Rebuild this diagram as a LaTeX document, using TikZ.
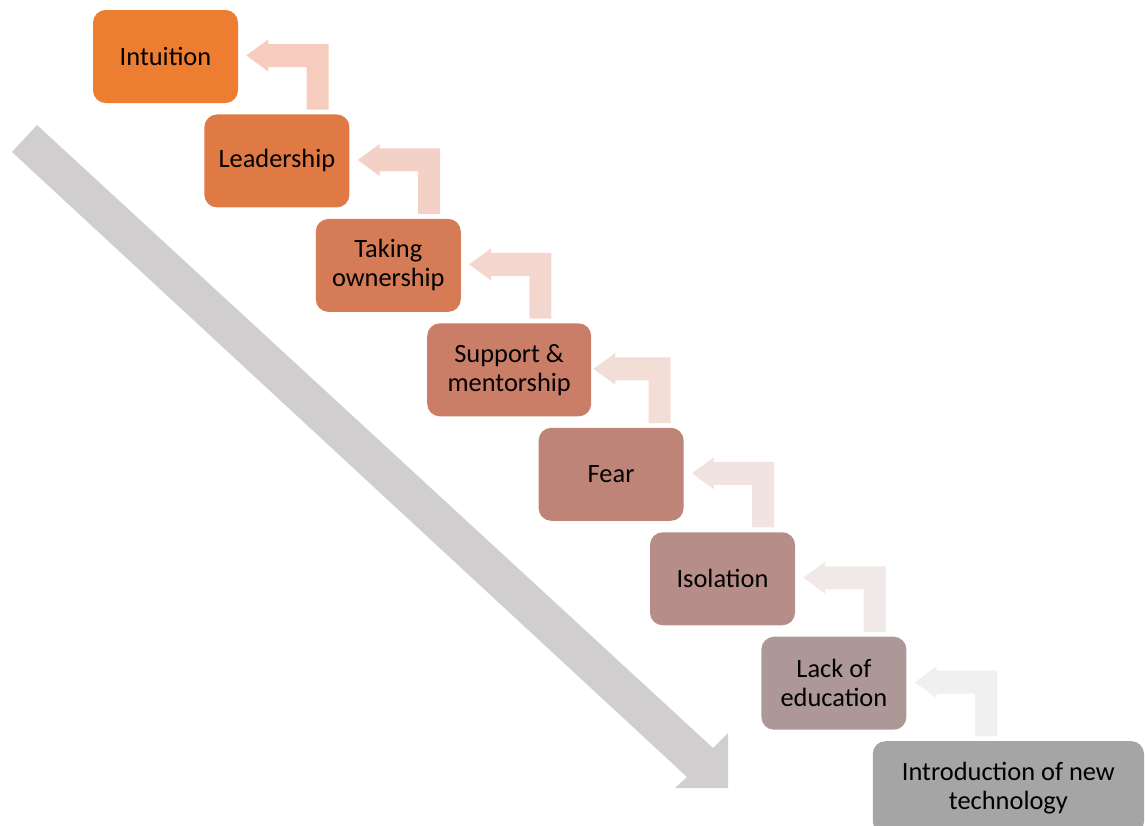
\documentclass[tikz,border=0pt]{standalone}
\usepackage{fontspec}
\setmainfont{Carlito}
\usetikzlibrary{calc}
\definecolor{c1}{RGB}{237,125,49}
\definecolor{c2}{RGB}{224,122,68}
\definecolor{c3}{RGB}{213,123,86}
\definecolor{c4}{RGB}{202,126,103}
\definecolor{c5}{RGB}{191,132,120}
\definecolor{c6}{RGB}{182,141,136}
\definecolor{c7}{RGB}{173,152,151}
\definecolor{c8}{RGB}{165,165,165}
\definecolor{a1}{RGB}{245,204,190}
\definecolor{a2}{RGB}{244,209,198}
\definecolor{a3}{RGB}{243,215,206}
\definecolor{a4}{RGB}{242,221,215}
\definecolor{a5}{RGB}{241,227,223}
\definecolor{a6}{RGB}{240,233,231}
\definecolor{a7}{RGB}{240,240,240}
\definecolor{bigarrow}{RGB}{208,206,206}
\newcommand\bentarrow[3]{%
  \fill[#3] let \p1=(#1), \p2=(#2) in
    (\x1,\y1) -- (\x1+16.5pt,\y1+12pt) -- (\x1+16.5pt,\y1+8.625pt)
    -- (\x2+16.5pt,\y1+8.625pt) -- (\x2+16.5pt,\y2) -- (\x2,\y2)
    -- (\x2,\y1-8.625pt) -- (\x1+16.5pt,\y1-8.625pt) -- (\x1+16.5pt,\y1-12pt) -- cycle;}
\tikzset{
  stepbox/.style={rectangle, rounded corners=9.5pt, draw=none, inner sep=0pt,
    minimum width=108.75pt, minimum height=69.75pt, align=center,
    font=\fontsize{19.8}{21.75}\selectfont, text=black}
}
\begin{document}
\begin{tikzpicture}[x=0.75pt,y=-0.75pt]
\useasboundingbox (0,0) rectangle (1145,825);
\clip (0,0) rectangle (1145,825);
% big diagonal arrow
\fill[bigarrow] (37,125) -- (713,748) -- (728,733) -- (728,788) -- (675,788) -- (687,777) -- (12,152) -- cycle;
% boxes
\node[stepbox, fill=c1] (b1) at (165.5,56.5) {Intuition};
\node[stepbox, fill=c2] (b2) at (276.9,160.95) {Leadership};
\node[stepbox, fill=c3] (b3) at (388.3,265.4) {Taking\\ownership};
\node[stepbox, fill=c4, minimum width=123pt] (b4) at (509.2,369.85) {Support \&\\mentorship};
\node[stepbox, fill=c5] (b5) at (611.1,474.3) {Fear};
\node[stepbox, fill=c6] (b6) at (722.5,578.75) {Isolation};
\node[stepbox, fill=c7] (b7) at (833.9,683.2) {Lack of\\education};
\node[stepbox, fill=c8, minimum width=203.4pt] (b8) at (1008.4,787.65) {Introduction of new\\technology};
% bent arrows
\coordinate (t1) at ($(b1.east)+(8,-1)$);   \coordinate (f1) at ($(b2.north west)+(102.5,-4.5)$);
\coordinate (t2) at ($(b2.east)+(8,-1)$);   \coordinate (f2) at ($(b3.north west)+(102.5,-4.5)$);
\coordinate (t3) at ($(b3.east)+(8,-1)$);   \coordinate (f3) at ($(b4.north west)+(102.5,-4.5)$);
\coordinate (t4) at ($(b4.east)+(2,-1)$);   \coordinate (f4) at ($(b5.north west)+(110.4,-4.5)$);
\coordinate (t5) at ($(b5.east)+(8,-1)$);   \coordinate (f5) at ($(b6.north west)+(102.5,-4.5)$);
\coordinate (t6) at ($(b6.east)+(8,-1)$);   \coordinate (f6) at ($(b7.north west)+(102.5,-4.5)$);
\coordinate (t7) at ($(b7.east)+(8,-1)$);   \coordinate (f7) at ($(b8.north west)+(102.5,-4.5)$);
\bentarrow{t1}{f1}{a1}
\bentarrow{t2}{f2}{a2}
\bentarrow{t3}{f3}{a3}
\bentarrow{t4}{f4}{a4}
\bentarrow{t5}{f5}{a5}
\bentarrow{t6}{f6}{a6}
\bentarrow{t7}{f7}{a7}
\end{tikzpicture}
\end{document}
